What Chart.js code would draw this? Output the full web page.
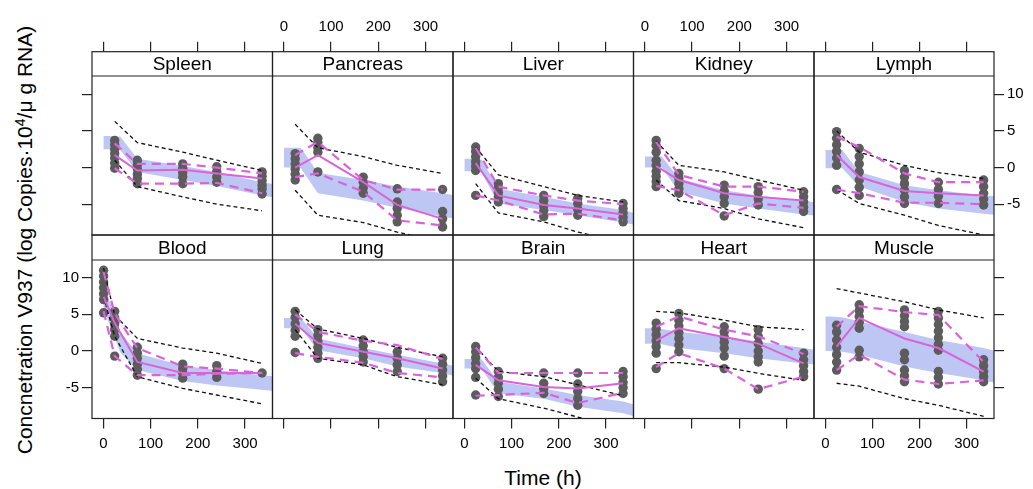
<!DOCTYPE html>
<html><head><meta charset="utf-8">
<script src="https://cdn.jsdelivr.net/npm/chart.js@4.4.1/dist/chart.umd.min.js"></script>
<style>
html,body{margin:0;padding:0;background:#fff;width:1033px;height:489px;overflow:hidden;font-family:"Liberation Sans",Arial,sans-serif;}
canvas{position:absolute;left:0;top:0;}
#xtitle{position:absolute;left:443px;width:200px;top:466px;height:24px;line-height:24px;text-align:center;font-size:21px;color:#000;}
#ytitle{position:absolute;left:-215px;top:228px;width:480px;height:24px;line-height:24px;text-align:center;font-size:21px;color:#000;transform:rotate(-90deg);white-space:nowrap;}
#ytitle sup{font-size:14px;vertical-align:7px;line-height:0;}
</style></head><body>
<div id="xtitle">Time (h)</div>
<div id="ytitle">Concnetration V937 (log Copies·10<sup>4</sup>/μ g RNA)</div>
<script>
// ---------------- DATA ----------------
const panelNames = ['Spleen','Pancreas','Liver','Kidney','Lymph','Blood','Lung','Brain','Heart','Muscle'];
const obsTimes = [24,72,168,240,336];
const bloodTimes = [0.5,24,72,168,240,336];
const bandTimes = [0,12,36,72,168,240,336,365];
const xTicks = [0,100,200,300];
const yTicks = [-5,0,5,10];

// observed values, per panel, per time
const observed = [
  [[3.7,3.1,2.5,1.9,1.3,0.6,-0.1],[1.0,0.4,-0.2,-0.9,-1.5,-2.2],[0.5,-0.1,-0.7,-1.3,-2.2],[0.1,-0.6,-1.3,-2.0],[-0.6,-1.2,-1.8,-2.4,-2.9,-3.6]],
  [[1.9,1.2,0.5,-0.2,-0.9,-1.7],[4.0,3.4,2.7,2.1,-0.6],[-1.3,-2.0,-2.8,-3.5],[-2.9,-4.7,-5.6,-6.5,-7.4],[-3.0,-6.0,-7.0,-8.1]],
  [[2.8,2.2,1.5,0.8,0.2,-0.4,-3.8],[-2.2,-2.8,-3.4,-4.0,-4.7],[-3.8,-4.5,-5.2,-5.9,-6.7],[-4.2,-4.9,-5.7,-6.5],[-4.9,-5.6,-6.2,-6.8,-7.4]],
  [[3.7,3.0,2.1,1.0,0.3,-0.5,-1.2,-1.9,-2.6],[-0.8,-1.5,-2.2,-2.9,-3.5],[-2.4,-3.2,-4.0,-4.9,-6.6],[-2.6,-3.4,-4.3,-5.1],[-3.3,-4.0,-4.7,-5.4,-6.0]],
  [[4.9,4.0,3.1,2.2,1.3,0.3,-3.0],[2.6,1.5,0.5,-0.6,-1.7,-2.7,-3.8],[-0.4,-1.3,-2.2,-3.1,-4.0,-4.9],[-2.0,-3.0,-3.9,-4.9],[-1.7,-2.6,-3.5,-4.3,-5.1]],
  [[11.0,10.2,9.4,8.6,7.8,7.0,5.2],[5.4,4.5,3.7,2.9,2.0,-0.7],[0.5,-0.3,-1.0,-1.8,-2.5,-3.3],[-1.8,-2.4,-3.0,-3.7],[-2.0,-2.8,-3.6],[-3.0]],
  [[5.4,4.6,3.7,2.8,2.0,-0.2],[2.9,2.1,1.3,0.5,-0.3,-1.0],[1.5,0.7,-0.1,-0.8,-1.5],[-0.1,-1.0,-1.9,-2.8],[-1.0,-1.8,-2.6,-3.4,-4.2]],
  [[0.6,-0.1,-0.9,-1.7,-2.4,-3.6,-6.0],[-2.8,-3.6,-4.4,-5.2,-6.2],[-3.0,-4.4,-5.1,-5.8],[-3.0,-4.5,-5.5,-6.5,-7.4],[-2.8,-3.5,-4.3,-5.0,-5.8]],
  [[3.8,3.0,2.2,1.4,0.6,-0.3,-2.4],[5.1,4.2,3.4,2.5,1.7,0.8,-0.1],[3.3,2.6,1.9,1.2,0.4,-0.7,-2.4],[2.9,2.0,1.0,0.0,-0.8,-1.5,-5.2],[-0.3,-1.2,-2.0,-2.8,-3.5]],
  [[3.5,2.6,1.5,0.5,-0.5,-1.5,-2.6],[6.3,5.5,4.7,3.9,3.1,0.1,-0.8],[5.6,4.8,4.0,3.3,-0.3,-1.2,-2.6,-3.4,-4.2],[5.4,4.5,3.6,2.7,1.8,0.9,0.1,-2.8,-3.6,-4.5],[-1.2,-2.0,-2.8,-3.5,-4.2]]
];
// observed median / upper / lower percentiles
const obsMedian = [
  [1.7,-0.4,-0.3,-0.8,-1.5],[0.0,1.7,-2.0,-5.1,-7.0],[0.6,-3.8,-5.1,-5.6,-6.4],[0.2,-1.7,-3.5,-4.0,-4.5],[1.7,-1.3,-3.2,-3.5,-3.8],
  [7.4,3.8,-1.5,-3.0,-3.0,-3.0],[3.7,1.1,-0.1,-1.0,-2.4],[-1.9,-4.0,-4.9,-5.1,-4.4],[1.4,3.1,1.9,1.0,-1.7],[0.6,4.5,1.7,0.4,-2.8]
];
const obsUpper = [
  [3.3,0.5,0.5,0.0,-0.8],[1.7,3.5,-1.7,-3.0,-3.0],[2.7,-2.6,-3.8,-4.5,-5.0],[3.5,-1.0,-2.6,-2.6,-3.3],[4.2,2.8,-0.8,-2.0,-2.0],
  [10.8,5.1,0.4,-2.1,-2.4,-3.0],[5.0,2.6,1.4,0.8,-1.1],[0.5,-3.0,-3.0,-3.0,-3.0],[3.3,4.7,2.9,2.0,-0.4],[3.3,6.1,5.3,4.9,-1.5]
];
const obsLower = [
  [-0.1,-2.2,-2.2,-2.1,-3.5],[-1.3,-0.8,-3.3,-7.2,-7.9],[-3.8,-4.5,-6.4,-6.3,-7.2],[-2.5,-3.1,-6.5,-4.9,-5.5],[-3.0,-3.5,-4.8,-4.8,-5.0],
  [5.4,-0.7,-3.3,-3.3,-3.1,-3.0],[-0.3,-0.8,-1.6,-3.0,-3.6],[-6.1,-6.0,-5.7,-7.1,-5.7],[-2.2,-0.3,-2.4,-5.2,-3.5],[-2.6,-0.5,-3.9,-4.5,-4.0]
];
// simulated upper / lower percentiles
const simUpper = [
  [6.3,3.4,2.1,1.0,-0.4],[5.9,2.7,1.5,0.3,-0.8],[2.8,-1.0,-2.6,-3.8,-4.7],[3.6,0.3,-0.6,-1.7,-3.1],[5.0,2.1,0.3,-0.7,-1.5],
  [11.3,4.9,1.7,0.4,-0.3,-1.7],[5.6,3.0,1.7,0.5,-0.8],[0.6,-2.8,-3.5,-4.6,-6.1],[5.4,5.2,4.2,3.3,2.9],[8.5,7.9,6.7,5.6,4.5]
];
const simLower = [
  [1.0,-2.6,-4.0,-5.0,-5.9],[-3.1,-6.5,-7.5,-8.8,-10.2],[-2.2,-6.2,-7.4,-8.8,-10.2],[-1.7,-4.5,-5.6,-7.0,-8.2],[-3.0,-4.9,-6.5,-7.9,-9.2],
  [7.4,2.0,-3.5,-5.1,-6.0,-7.2],[2.9,-1.0,-1.9,-3.5,-4.6],[-3.7,-6.5,-7.8,-9.0,-10.5],[-1.6,-1.6,-2.2,-3.05,-4.0],[-4.4,-4.8,-6.5,-7.4,-8.9]
];
// prediction interval band of the simulated median
const bandUpper = [
  [4.3,4.3,4.2,1.2,0.2,-0.6,-2.0,-2.3],[2.7,2.7,2.7,-0.7,-1.7,-2.6,-3.5,-3.8],[1.2,1.2,1.1,-2.9,-4.0,-4.9,-5.8,-6.3],
  [1.5,1.5,1.5,-1.5,-3.1,-3.8,-4.5,-4.8],[2.4,2.4,2.4,-0.6,-2.4,-3.1,-3.8,-3.9],[9.2,7.0,2.6,-0.3,-2.0,-2.6,-3.3,-3.5],
  [4.5,4.5,4.5,1.7,0.4,-0.5,-1.7,-2.1],[-1.1,-1.1,-1.1,-4.2,-5.1,-6.0,-6.9,-7.4],[3.1,3.1,3.0,2.6,2.0,1.3,0.4,0.1],
  [4.7,4.7,4.6,4.0,2.6,1.5,0.4,-0.1]
];
const bandLower = [
  [2.5,2.5,2.4,-0.6,-1.7,-2.5,-3.8,-4.1],[0.0,0.0,-0.1,-3.5,-4.5,-5.5,-6.7,-7.0],[-0.5,-0.5,-0.6,-4.9,-5.8,-6.5,-7.5,-7.9],
  [0.0,0.0,0.0,-3.3,-4.9,-5.6,-6.4,-6.6],[-0.1,-0.1,-0.1,-2.6,-4.7,-5.6,-6.3,-6.5],[6.0,3.8,-0.2,-2.6,-4.1,-4.7,-5.3,-5.5],
  [3.1,3.1,3.1,0.1,-1.0,-2.1,-3.0,-3.5],[-2.4,-2.4,-2.4,-5.8,-6.5,-7.6,-8.5,-9.0],[1.0,1.0,0.9,0.4,-0.3,-1.0,-1.7,-1.9],
  [0.0,0.0,-0.1,-0.5,-2.1,-3.0,-4.0,-4.4]
];

// ---------------- LAYOUT ----------------
const W = 1033, H = 489;
const colEdges = [92, 272.5, 453, 633.5, 814, 994];
const rowTop = [51.7, 235], rowBottom = [235, 418.5];
const stripH = [24.3, 25];
const xMin = -24, xMax = 358, yMin = -9.2, yMax = 15.8;
const AXIS = 40;
const FONT = '"Liberation Sans", Arial, sans-serif';

Chart.defaults.font.family = FONT;
Chart.defaults.color = '#000';

const PINK = 'rgb(218,98,218)';
const GREY = '#5c5c5c';
const BAND = 'rgb(190,199,243)';

const latticePlugin = {
  id: 'lattice',
  afterDatasetsDraw(chart, args, opts) {
    const {ctx, chartArea: a} = chart;
    ctx.save();
    ctx.strokeStyle = '#222';
    ctx.lineWidth = 1.2;
    ctx.strokeRect(a.left, a.top, a.right - a.left, a.bottom - a.top);
    const sb = a.top + opts.stripHeight;
    ctx.beginPath(); ctx.moveTo(a.left, sb); ctx.lineTo(a.right, sb); ctx.stroke();
    ctx.fillStyle = '#000';
    ctx.font = '19px ' + FONT;
    ctx.textAlign = 'center'; ctx.textBaseline = 'middle';
    ctx.fillText(opts.label, (a.left + a.right) / 2, (a.top + sb) / 2 + 1);
    ctx.restore();
  }
};

function pts(times, vals) { return vals.map((v, i) => ({x: times[i], y: v})); }

function makePanel(idx) {
  const row = idx < 5 ? 0 : 1, col = idx % 5;
  const times = idx === 5 ? bloodTimes : obsTimes;
  const cv = document.createElement('canvas');
  cv.width = W; cv.height = H;
  document.body.appendChild(cv);

  const obsPts = [];
  observed[idx].forEach((arr, i) => arr.forEach(v => obsPts.push({x: times[i], y: v})));

  const xLabeled = row === 0 ? (col === 1 || col === 3) : (col === 0 || col === 2 || col === 4);
  const hasY = col === 0 || col === 4;
  const yLabeled = (row === 0 && col === 4) || (row === 1 && col === 0);

  const lineDs = (data, color, width, dash, order) => ({
    data, borderColor: color, borderWidth: width, borderDash: dash, pointRadius: 0,
    fill: false, tension: 0, order
  });

  new Chart(cv, {
    type: 'line',
    data: {
      datasets: [
        {data: pts(bandTimes, bandUpper[idx]), borderWidth: 0, pointRadius: 0, backgroundColor: BAND,
         fill: '+1', order: 10, clip: {left: 0, top: 0, right: 3, bottom: 0}},
        {data: pts(bandTimes, bandLower[idx]), borderWidth: 0, pointRadius: 0, fill: false, order: 10,
         clip: {left: 0, top: 0, right: 3, bottom: 0}},
        {data: obsPts, showLine: false, pointRadius: 4.7, pointBackgroundColor: GREY, pointBorderWidth: 0, order: 8},
        lineDs(pts(times, simUpper[idx]), '#111', 1.3, [4, 3], 5),
        lineDs(pts(times, simLower[idx]), '#111', 1.3, [4, 3], 5),
        lineDs(pts(times, obsUpper[idx]), PINK, 2.2, [9, 6], 2),
        lineDs(pts(times, obsLower[idx]), PINK, 2.2, [9, 6], 2),
        lineDs(pts(times, obsMedian[idx]), PINK, 2, [], 1)
      ]
    },
    options: {
      responsive: false, animation: false, devicePixelRatio: 1, events: [],
      layout: {padding: {
        left: colEdges[col] - (col === 0 ? AXIS : 0),
        right: W - colEdges[col + 1] - (col === 4 ? AXIS : 0),
        top: row === 0 ? rowTop[0] - AXIS : rowTop[1],
        bottom: row === 0 ? H - rowBottom[0] : H - rowBottom[1] - AXIS
      }},
      plugins: {legend: {display: false}, tooltip: {enabled: false}, title: {display: false},
        lattice: {label: panelNames[idx], stripHeight: stripH[row]}},
      scales: {
        x: {
          type: 'linear', min: xMin, max: xMax, position: row === 0 ? 'top' : 'bottom',
          afterBuildTicks: s => { s.ticks = xTicks.map(v => ({value: v})); },
          ticks: {display: xLabeled, padding: 6, font: {size: 15}, color: '#000', maxRotation: 0},
          grid: {display: true, drawOnChartArea: false, drawTicks: true, tickLength: 10, color: '#222', lineWidth: 1.2},
          border: {display: false},
          afterFit: s => { s.height = AXIS; }
        },
        y: {
          type: 'linear', min: yMin, max: yMax, display: hasY, position: col === 4 ? 'right' : 'left',
          afterBuildTicks: s => { s.ticks = yTicks.map(v => ({value: v})); },
          ticks: {display: yLabeled, padding: 3, font: {size: 15}, color: '#000'},
          grid: {display: true, drawOnChartArea: false, drawTicks: true, tickLength: 10, color: '#222', lineWidth: 1.2},
          border: {display: false},
          afterFit: s => { s.width = hasY ? AXIS : 0; }
        }
      }
    },
    plugins: [latticePlugin]
  });
}

for (let i = 0; i < panelNames.length; i++) makePanel(i);
</script>
</body></html>
